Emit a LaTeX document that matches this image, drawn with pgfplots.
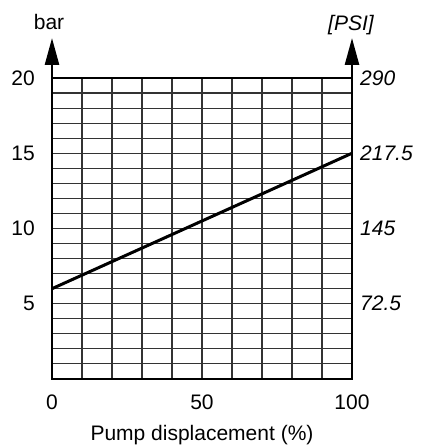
\documentclass[border=0pt]{standalone}
\usepackage{pgfplots}
\pgfplotsset{compat=1.18}
\usepackage{fontspec}
\setmainfont{Liberation Sans}
\usetikzlibrary{arrows.meta}
\begin{document}
\fontsize{21}{25}\selectfont
\begin{tikzpicture}
\begin{axis}[
  at={(0,0)}, anchor=south west,
  width=300pt, height=301pt, scale only axis,
  xmin=0, xmax=100, ymin=0, ymax=20,
  xtick={0,50,100}, ytick={5,10,15,20},
  minor xtick={10,20,...,90}, minor ytick={1,2,...,19},
  grid=both,
  major grid style={draw=black!80, line width=1.1pt},
  minor grid style={draw=black!80, line width=1.1pt},
  axis line style={line width=2.6pt},
  major tick length=0pt, minor tick length=0pt,
  /pgf/number format/assume math mode=true,
  yticklabel style={anchor=east, xshift=-10pt},
  xticklabel style={anchor=north, yshift=-9pt},
  xlabel={Pump displacement (\%)},
  xlabel style={at={(axis description cs:0.5,0)}, anchor=base, yshift=-61pt, inner sep=0pt},
  clip=false,
]
\addplot[black, line width=3pt] coordinates {(0,6) (100,15)};
\end{axis}
\begin{axis}[
  at={(0,0)}, anchor=south west,
  width=300pt, height=301pt, scale only axis,
  xmin=0, xmax=100, ymin=0, ymax=20,
  axis x line=none, axis y line*=right,
  y axis line style={draw=none},
  ytick={5,10,15,20}, yticklabels={72.5,145,217.5,290},
  yticklabel style={anchor=west, font=\itshape, xshift=1pt},
  major tick length=0pt,
]
\addplot[draw=none] coordinates {(0,0) (100,20)};
\end{axis}
\draw[line width=2.6pt, -{Triangle[width=14pt,length=27pt]}] (0,300pt) -- (0,341pt);
\draw[line width=2.6pt, -{Triangle[width=14pt,length=27pt]}] (300pt,300pt) -- (300pt,341pt);
\node[anchor=base, inner sep=0pt] at (-3pt,349pt) {bar};
\node[anchor=base, inner sep=0pt, font=\itshape] at (299pt,348pt) {[PSI]};
\pgfresetboundingbox
\path (-52pt,-67pt) rectangle (370pt,379pt);
\end{tikzpicture}
\end{document}
